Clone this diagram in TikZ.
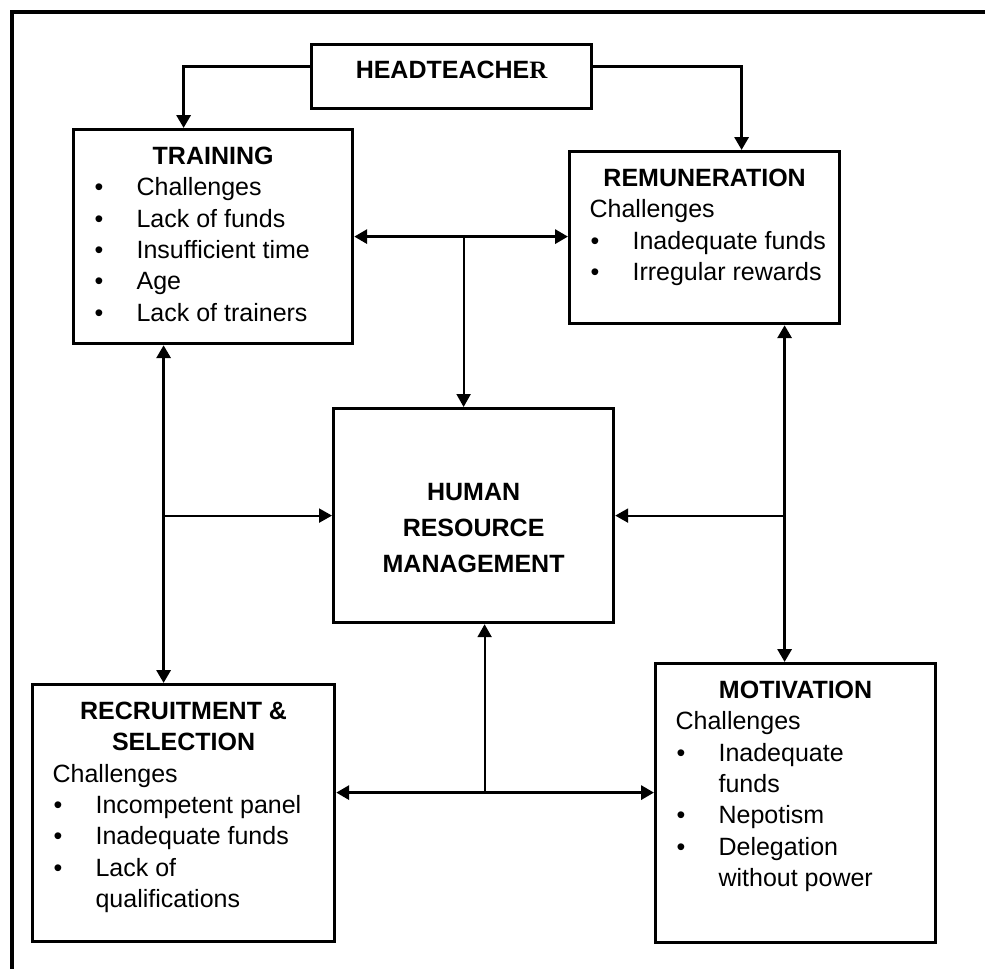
\documentclass[tikz,border=0pt]{standalone}
\usepackage{fontspec}
\setmainfont{Liberation Sans}
\newfontfamily\serifR{Liberation Serif}
\usetikzlibrary{arrows.meta}

\newcommand{\boxtext}[3]{\parbox[c][#2][t]{#1}{\raggedright#3}}
\newcommand{\ttl}[1]{\makebox[\linewidth]{\bfseries #1}}
\newcommand{\itm}[1]{\hspace*{10.5pt}\makebox[21pt][l]{\textbullet}#1}
\newcommand{\cont}[1]{\hspace*{31.5pt}#1}
\newcommand{\chal}{\hspace*{10pt}Challenges}

\begin{document}
\begin{tikzpicture}[x=0.5pt,y=-0.5pt,>={Triangle[length=6.5pt,width=7pt]},
    box/.style={rectangle,draw,line width=1.6pt,inner sep=0pt,anchor=north west,font=\fontsize{12.5pt}{15.65pt}\selectfont},
    thk/.style={line width=1.6pt},thn/.style={line width=1.1pt}]

            \useasboundingbox (0,0) rectangle (985,969);
            \draw[line width=2pt] (985,11.5) -- (11.5,11.5) -- (11.5,969);

            \node[box] (1) at (310,43) {\boxtext{140pt}{32pt}{\ttl{\rule{0pt}{17pt}HEADTEACHE{\serifR R}}}};

            \node[box] (2) at (72,128) {\boxtext{139.5pt}{107pt}{\ttl{\rule{0pt}{17.5pt}TRAINING}\\
                \itm{Challenges}\\ \itm{Lack of funds}\\ \itm{Insufficient time}\\ \itm{Age}\\ \itm{Lack of trainers}}};
            \node[box] (3) at (568,150) {\boxtext{135pt}{86pt}{\ttl{\rule{0pt}{17.5pt}REMUNERATION}\\
                \chal\\ \itm{Inadequate funds}\\ \itm{Irregular rewards}}};

            \node[box] (4) at (332,407) {\boxtext{140pt}{107pt}{\fontsize{12.5pt}{18pt}\selectfont
                \ttl{\rule{0pt}{46pt}HUMAN}\\ \ttl{RESOURCE}\\ \ttl{MANAGEMENT}}};

            \node[box] (5) at (31,683) {\boxtext{151pt}{128.5pt}{\ttl{\rule{0pt}{17.5pt}RECRUITMENT \&}\\ \ttl{SELECTION}\\
                \chal\\ \itm{Incompetent panel}\\ \itm{Inadequate funds}\\ \itm{Lack of}\\ \cont{qualifications}}};
            \node[box] (6) at (654,662) {\boxtext{140pt}{139.5pt}{\ttl{\rule{0pt}{17.5pt}MOTIVATION}\\
                \chal\\ \itm{Inadequate}\\ \cont{funds}\\ \itm{Nepotism}\\ \itm{Delegation}\\ \cont{without power}}};

            \coordinate (tv) at ([xshift=-5pt]4.north);
            \coordinate (lv) at ([xshift=-24.75pt]2.south);
            \coordinate (rv) at ([xshift=40pt]3.south);
            \coordinate (bl) at ([yshift=10.25pt]5.east);
            \coordinate (bv) at ([xshift=5.5pt]4.south);

            \draw[thk,->] ([yshift=5pt]1.west) -| ([xshift=-14.75pt]2.north);
            \draw[thk,->] ([yshift=5pt]1.east) -| ([xshift=18.5pt]3.north);
            \draw[thk,<->] (2.east) -- (2.east -| 3.west);
            \draw[thn,->] (tv |- 2.east) -- (tv);
            \draw[thk,<->] (lv) -- (lv |- 5.north);
            \draw[thn,->] (lv |- 4.west) -- (4.west);
            \draw[thk,<->] (rv) -- (rv |- 6.north);
            \draw[thn,->] (rv |- 4.east) -- (4.east);
            \draw[thk,<->] (bl) -- (bl -| 6.west);
            \draw[thn,->] (bv |- bl) -- (bv);
        \end{tikzpicture}
\end{document}
